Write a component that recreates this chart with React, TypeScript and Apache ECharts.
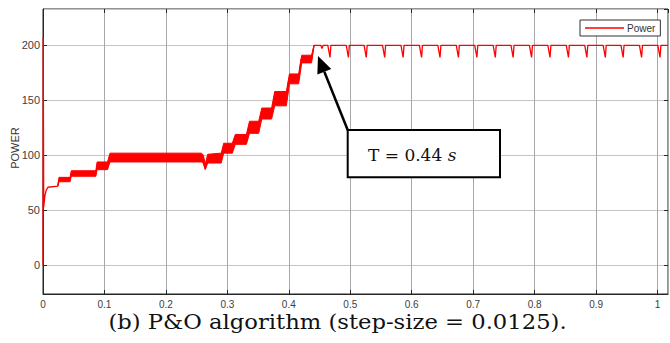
import React, { useEffect, useRef } from "react";
import * as echarts from "echarts";

// Power trace (time in s, power)
const powerT = [
  0, 0.0003, 0.0012, 0.003, 0.005, 0.008, 0.024, 0.026, 0.044, 0.046, 0.086, 0.088, 0.105, 0.109,
  0.258, 0.264, 0.268, 0.29, 0.293, 0.308, 0.312, 0.331, 0.335, 0.351, 0.355, 0.372, 0.376, 0.396,
  0.4, 0.416, 0.42, 0.437, 0.441, 0.452, 0.454, 0.456,
  0.4635, 0.467, 0.4685, 0.4935, 0.497, 0.4985, 0.5225, 0.526, 0.5275, 0.5525, 0.556, 0.5575,
  0.5825, 0.586, 0.5875, 0.6125, 0.616, 0.6175, 0.6425, 0.646, 0.6475, 0.6725, 0.676, 0.6775,
  0.7025, 0.706, 0.7075, 0.7325, 0.736, 0.7375, 0.7615, 0.765, 0.7665, 0.7915, 0.795, 0.7965,
  0.8215, 0.825, 0.8265, 0.8515, 0.855, 0.8565, 0.8815, 0.885, 0.8865, 0.9115, 0.915, 0.9165,
  0.9405, 0.944, 0.9455, 0.9705, 0.974, 0.9755, 1.0005, 1.004, 1.0055, 1.017,
];
const powerV = [
  0, 207, 53, 63, 68, 71, 72, 78, 78, 83.5, 83.5, 90.5, 90.5, 98,
  98, 88, 97, 97, 106.5, 106.5, 114.5, 114.5, 125.5, 125.5, 138, 138, 151.5, 151.5,
  169.5, 169.5, 187.5, 187.5, 200, 200, 197, 200,
  200, 189, 200, 200, 189, 200, 200, 189, 200, 200, 189, 200,
  200, 189, 200, 200, 189, 200, 200, 189, 200, 200, 189, 200,
  200, 189, 200, 200, 189, 200, 200, 189, 200, 200, 189, 200,
  200, 189, 200, 200, 189, 200, 200, 189, 200, 200, 189, 200,
  200, 189, 200, 200, 189, 200, 200, 189, 200, 200,
];

// Envelope of the fast oscillation (thick band)
const bandT = [
  0.024, 0.026, 0.044, 0.046, 0.086, 0.088, 0.105, 0.109, 0.258, 0.261, 0.264, 0.268, 0.29, 0.294,
  0.308, 0.313, 0.331, 0.336, 0.351, 0.356, 0.372, 0.377, 0.396, 0.401, 0.416, 0.421, 0.437, 0.441,
];
const bandHi = [
  72, 80, 80, 86, 86, 94, 94, 102, 102, 100, 92, 101, 102, 111,
  111, 119, 119, 131, 131, 143, 143, 158, 158, 174, 174, 191, 191, 200,
];
const bandLo = [
  72, 76, 76, 81, 81, 87, 87, 94, 94, 93, 87, 93, 93, 102,
  102, 110, 110, 120, 120, 133, 133, 145, 145, 165, 165, 184, 184, 200,
];

const seriesName = "Power";
const yLabel = "POWER";
const annotationText = "T = 0.44 ";
const annotationUnit = "s";
const caption = "(b) P&O algorithm (step-size = 0.0125).";

export default function App() {
  const ref = useRef<HTMLDivElement>(null);
  useEffect(() => {
    if (!ref.current) return;
    const chart = echarts.init(ref.current, null, { renderer: "svg" });
    const lineData = powerT.map((t, i) => [t, powerV[i]]);
    const red = "#ff0000";
    const labelColor = "#404040";
    const tickFmt = (v: number) => String(Math.round(v * 10) / 10);

    const tipX = 318, tipY = 56, tailX = 347.7, tailY = 130;
    const dx = tipX - tailX, dy = tipY - tailY;
    const len = Math.sqrt(dx * dx + dy * dy);
    const ux = dx / len, uy = dy / len;
    const headL = 17, headW = 7.5;
    const bx = tipX - ux * headL, by = tipY - uy * headL;
    const nx = -uy, ny = ux;

    chart.setOption({
      animation: false,
      grid: {
        left: 43,
        right: 2,
        top: 9,
        bottom: 49,
        outerBoundsMode: "none",
        containLabel: false,
        show: true,
        borderColor: "#262626",
        borderWidth: 1,
        backgroundColor: "#fff",
      },
      legend: {
        data: [seriesName],
        left: 580,
        top: 20,
        padding: [3, 5],
        itemWidth: 39,
        itemHeight: 1.5,
        icon: "rect",
        borderColor: "#333",
        borderWidth: 1,
        backgroundColor: "#fff",
        textStyle: { fontFamily: "Liberation Sans", fontSize: 10, color: "#333", padding: [0, 0, 0, -2] },
      },
      xAxis: [
        {
          type: "value",
          min: 0,
          max: 1.017,
          interval: 0.1,
          axisLine: { show: true, onZero: false, lineStyle: { color: "#262626" } },
          axisTick: { show: true, inside: true, length: 4, lineStyle: { color: "#262626" } },
          axisLabel: {
            formatter: tickFmt,
            showMaxLabel: false,
            fontFamily: "Liberation Sans",
            fontSize: 10,
            color: labelColor,
            margin: 5,
          },
          splitLine: { show: true, lineStyle: { color: "#a8a8a8", width: 1 } },
        },
        {
          type: "value",
          position: "top",
          min: 0,
          max: 1.017,
          interval: 0.1,
          axisLine: { show: false, onZero: false },
          axisTick: { show: true, inside: true, length: 4, lineStyle: { color: "#262626" } },
          axisLabel: { show: false },
          splitLine: { show: false },
        },
      ],
      yAxis: [
        {
          type: "value",
          min: -26,
          max: 233,
          axisLine: { show: true, onZero: false, lineStyle: { color: "#262626" } },
          axisTick: { show: true, inside: true, length: 4, lineStyle: { color: "#262626" } },
          axisLabel: {
            showMinLabel: false,
            showMaxLabel: false,
            fontFamily: "Liberation Sans",
            fontSize: 11,
            color: labelColor,
            margin: 3,
          },
          splitLine: { show: true, lineStyle: { color: "#c4c4c4", width: 1 } },
        },
        {
          type: "value",
          position: "right",
          min: -26,
          max: 233,
          axisLine: { show: false, onZero: false },
          axisTick: { show: true, inside: true, length: 4, lineStyle: { color: "#262626" } },
          axisLabel: { show: false },
          splitLine: { show: false },
        },
      ],
      series: [
        {
          type: "custom",
          name: "band",
          xAxisIndex: 0,
          yAxisIndex: 0,
          silent: true,
          clip: true,
          data: [[bandT[0], bandLo[0]]],
          renderItem: (_params: any, api: any) => {
            const pts: number[][] = [];
            for (let i = 0; i < bandT.length; i++) pts.push(api.coord([bandT[i], bandHi[i]]));
            for (let i = bandT.length - 1; i >= 0; i--) pts.push(api.coord([bandT[i], bandLo[i]]));
            return { type: "polygon", shape: { points: pts }, style: { fill: red, stroke: red, lineWidth: 1 } };
          },
        },
        {
          type: "line",
          name: seriesName,
          xAxisIndex: 0,
          yAxisIndex: 0,
          data: lineData,
          showSymbol: false,
          symbol: "none",
          lineStyle: { color: red, width: 1.3 },
          itemStyle: { color: red },
          z: 3,
        },
      ],
      graphic: [
        {
          type: "text",
          x: 15,
          y: 148,
          rotation: Math.PI / 2,
          style: {
            text: yLabel,
            fontFamily: "Liberation Sans",
            fontSize: 11,
            fill: "#333",
            align: "center",
            verticalAlign: "middle",
          },
        },
        {
          type: "line",
          shape: { x1: tailX, y1: tailY, x2: bx, y2: by },
          style: { stroke: "#000", lineWidth: 2.5 },
          z: 100,
        },
        {
          type: "polygon",
          shape: {
            points: [
              [tipX, tipY],
              [bx + nx * headW, by + ny * headW],
              [bx - nx * headW, by - ny * headW],
            ],
          },
          style: { fill: "#000" },
          z: 100,
        },
        {
          type: "rect",
          shape: { x: 347.7, y: 130, width: 152.3, height: 47.3 },
          style: { fill: "#fff", stroke: "#000", lineWidth: 2 },
          z: 100,
        },
        {
          type: "text",
          x: 368,
          y: 155,
          style: {
            text: "{a|" + annotationText + "}{b|" + annotationUnit + "}",
            verticalAlign: "middle",
            rich: {
              a: { fontFamily: "DejaVu Serif", fontSize: 17, fill: "#111" },
              b: { fontFamily: "DejaVu Serif", fontSize: 17, fontStyle: "italic", fill: "#111" },
            },
          },
          z: 101,
        },
        {
          type: "text",
          x: 337.5,
          y: 322,
          scaleX: 1.08,
          style: {
            text: caption,
            fontFamily: "DejaVu Serif",
            fontSize: 21,
            fill: "#111",
            align: "center",
            verticalAlign: "middle",
          },
          z: 101,
        },
      ],
    });
    return () => chart.dispose();
  }, []);
  return <div ref={ref} style={{ width: 670, height: 343, position: "absolute", left: 0, top: 0 }} />;
}
